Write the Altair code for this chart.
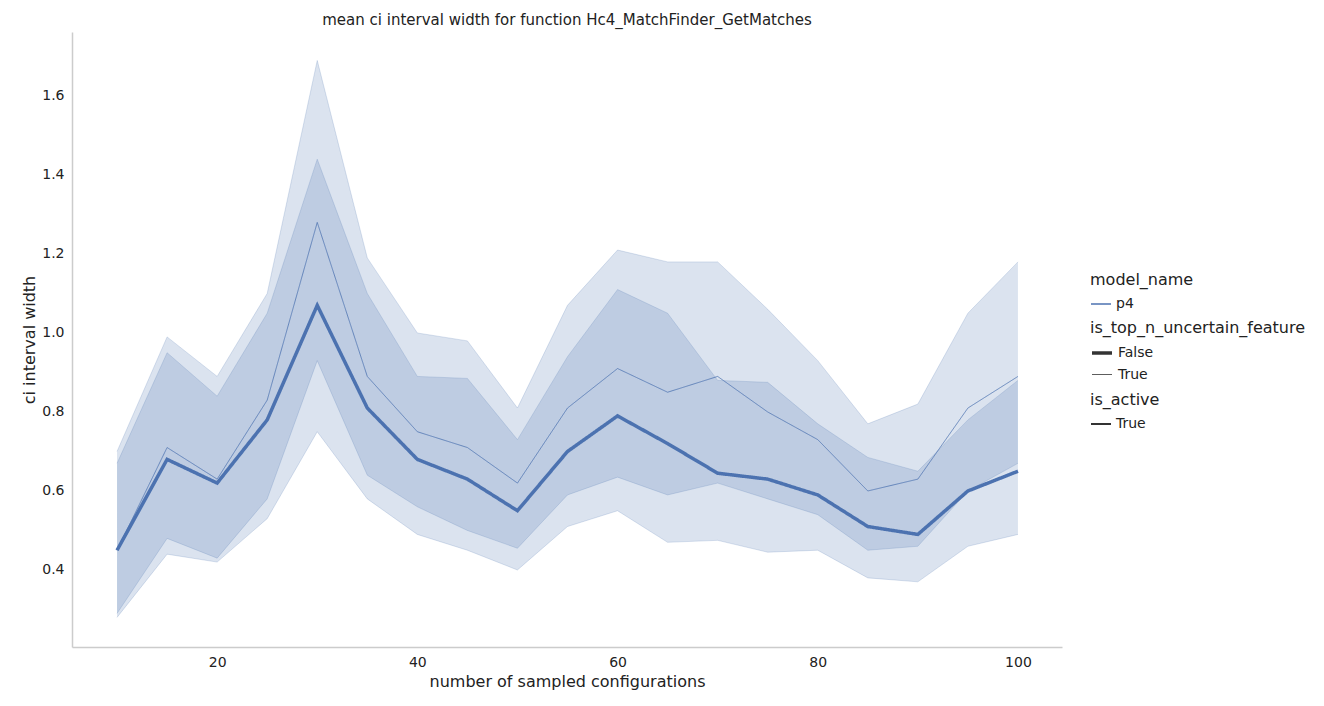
import altair as alt
import pandas as pd

x = [10, 15, 20, 25, 30, 35, 40, 45, 50, 55, 60, 65, 70, 75, 80, 85, 90, 95, 100]

# is_top_n_uncertain_feature = False (thick line, narrow band)
mean_false = [0.45, 0.68, 0.62, 0.78, 1.07, 0.81, 0.68, 0.63, 0.55, 0.70, 0.79, 0.72, 0.645, 0.63, 0.59, 0.51, 0.49, 0.60, 0.65]
lo_false = [0.29, 0.48, 0.43, 0.58, 0.93, 0.64, 0.56, 0.50, 0.455, 0.59, 0.635, 0.59, 0.62, 0.58, 0.54, 0.45, 0.46, 0.60, 0.67]
hi_false = [0.67, 0.95, 0.84, 1.05, 1.44, 1.10, 0.89, 0.885, 0.73, 0.94, 1.11, 1.05, 0.88, 0.875, 0.77, 0.685, 0.65, 0.78, 0.88]

# is_top_n_uncertain_feature = True (thin line, wide band)
mean_true = [0.45, 0.71, 0.63, 0.83, 1.28, 0.89, 0.75, 0.71, 0.62, 0.81, 0.91, 0.85, 0.89, 0.80, 0.73, 0.60, 0.63, 0.81, 0.89]
lo_true = [0.28, 0.44, 0.42, 0.53, 0.75, 0.58, 0.49, 0.45, 0.40, 0.51, 0.55, 0.47, 0.475, 0.445, 0.45, 0.38, 0.37, 0.46, 0.49]
hi_true = [0.70, 0.99, 0.89, 1.10, 1.69, 1.19, 1.00, 0.98, 0.81, 1.07, 1.21, 1.18, 1.18, 1.06, 0.93, 0.77, 0.82, 1.05, 1.18]

rows = []
for flag, m, lo, hi in [("False", mean_false, lo_false, hi_false), ("True", mean_true, lo_true, hi_true)]:
    for i, xv in enumerate(x):
        rows.append({"n": xv, "mean": m[i], "lo": lo[i], "hi": hi[i],
                     "model_name": "p4", "is_top_n_uncertain_feature": flag, "is_active": "True"})
df = pd.DataFrame(rows)

blue = "#4c72b0"
xs = alt.Scale(domain=[5.5, 104.4], nice=False, zero=False)
ys = alt.Scale(domain=[0.205, 1.762], nice=False, zero=False)

base = alt.Chart(df)

bands = base.mark_area(opacity=0.2, color=blue).encode(
    x=alt.X("n:Q", scale=xs),
    y=alt.Y("lo:Q", scale=ys),
    y2="hi:Q",
    detail="is_top_n_uncertain_feature:N",
)
edge_lo = base.mark_line(color=blue, opacity=0.2, strokeWidth=1).encode(
    x=alt.X("n:Q", scale=xs), y=alt.Y("lo:Q", scale=ys),
    detail="is_top_n_uncertain_feature:N",
)
edge_hi = edge_lo.encode(y=alt.Y("hi:Q", scale=ys))

leg = dict(symbolType="stroke", orient="none", legendX=1018, titleLimit=400, labelLimit=300)

lines = base.mark_line().encode(
    x=alt.X("n:Q", scale=xs, title="number of sampled configurations",
            axis=alt.Axis(values=[20, 40, 60, 80, 100], grid=False)),
    y=alt.Y("mean:Q", scale=ys, title="ci interval width",
            axis=alt.Axis(values=[0.4, 0.6, 0.8, 1.0, 1.2, 1.4, 1.6], format=".1f", grid=False)),
    color=alt.Color("model_name:N", scale=alt.Scale(range=[blue]),
                    legend=alt.Legend(title="model_name", legendY=240, **leg)),
    strokeWidth=alt.StrokeWidth("is_top_n_uncertain_feature:N",
                                scale=alt.Scale(domain=["False", "True"], range=[3.5, 0.8]),
                                legend=alt.Legend(symbolStrokeColor="#333", legendY=288, **leg)),
    strokeDash=alt.StrokeDash("is_active:N", scale=alt.Scale(domain=["True"], range=[[1, 0]]),
                              legend=alt.Legend(symbolStrokeColor="#333", symbolStrokeWidth=1.8,
                                                legendY=360, **leg)),
)

chart = (bands + edge_lo + edge_hi + lines).properties(
    width=990, height=615,
    padding={"left": 13, "top": 5, "right": 5, "bottom": 5},
    title=alt.Title("mean ci interval width for function Hc4_MatchFinder_GetMatches",
                    fontSize=15, fontWeight="normal", color="#222"),
).configure(font="DejaVu Sans").configure_view(stroke=None).configure_axis(
    domainColor="#ccc", domainWidth=1.5, tickColor="#ccc", ticks=False,
    labelFontSize=14, titleFontSize=16, labelColor="#222", titleColor="#222",
    titleFontWeight="normal", labelPadding=8,
).configure_legend(
    titleFontSize=16, labelFontSize=14, titleFontWeight="normal", labelColor="#222",
    titleColor="#222", symbolSize=400, padding=0, rowPadding=4,
)

chart.save("out.html", embed_options={"renderer": "svg", "actions": False})
